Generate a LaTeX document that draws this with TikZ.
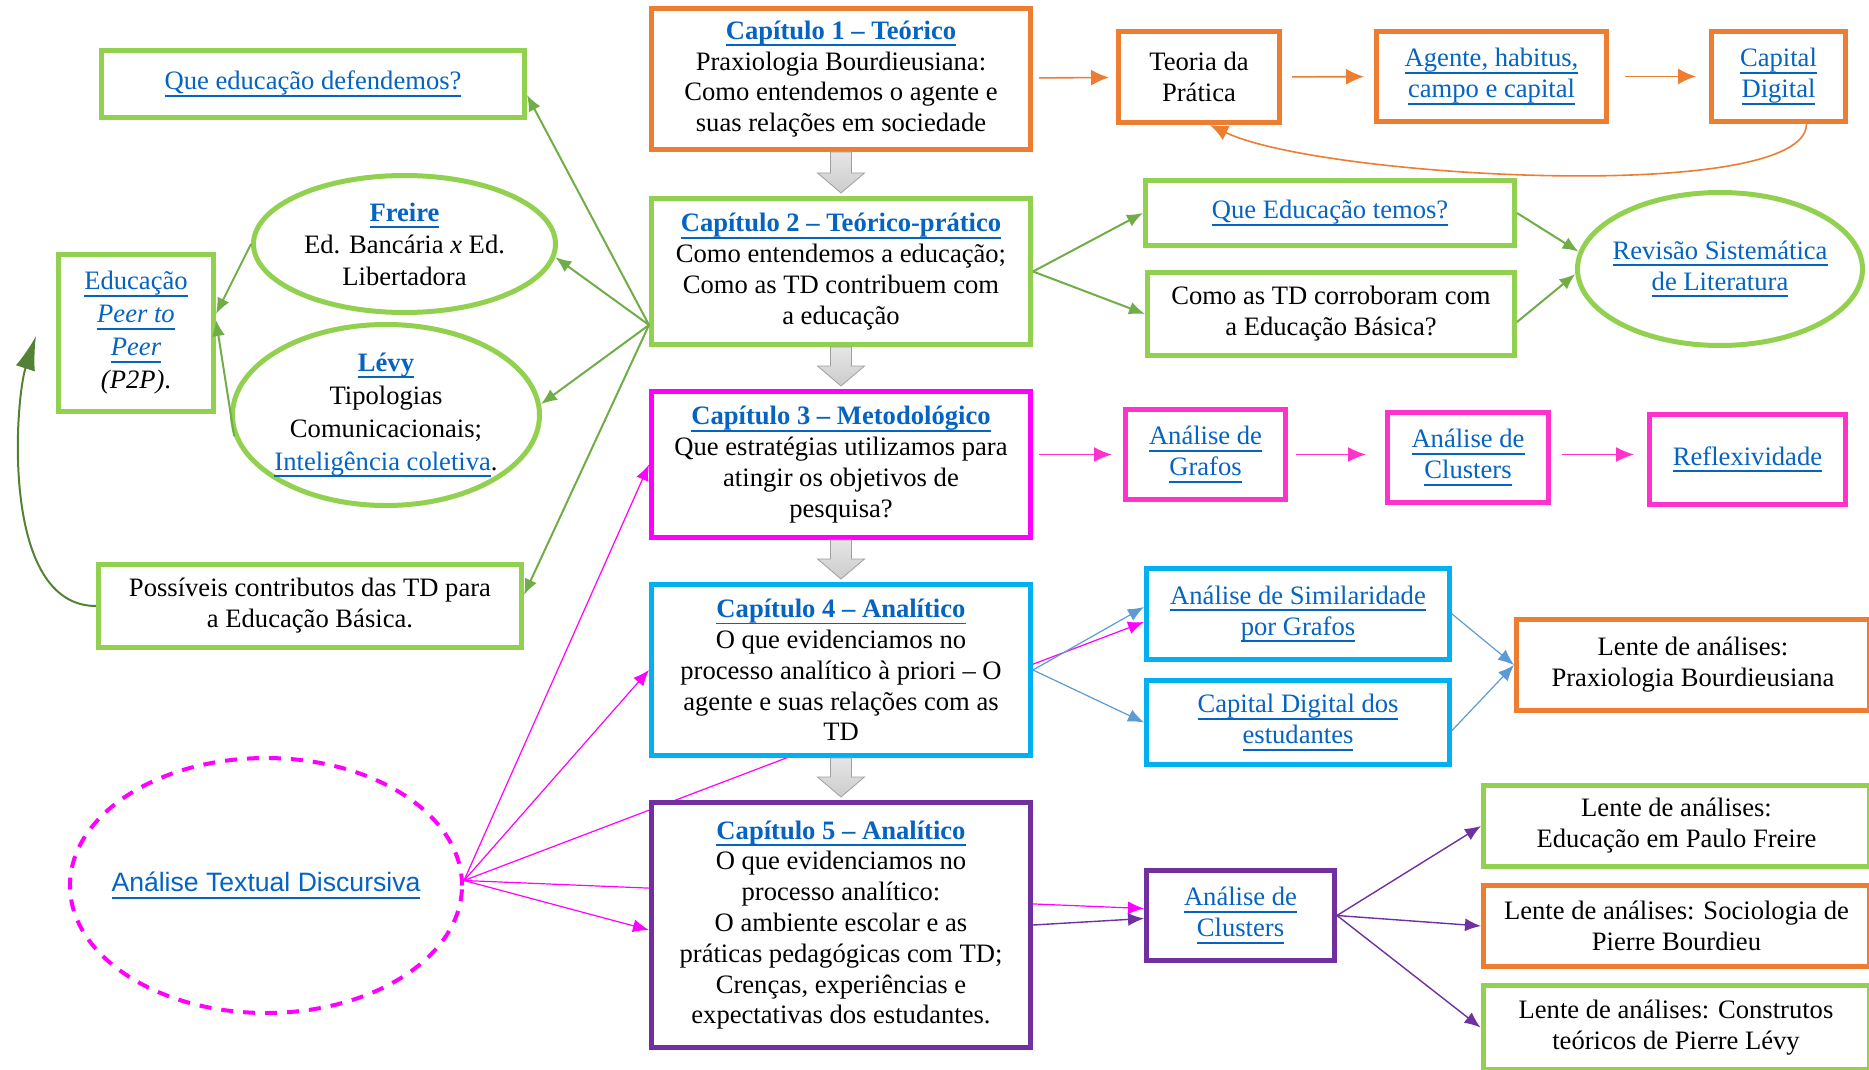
\documentclass[tikz,border=0pt]{standalone}
\usepackage{fontspec}
\setmainfont{Liberation Serif}
\setsansfont{Liberation Sans}
\usetikzlibrary{shapes.geometric,calc,arrows.meta,backgrounds}
\definecolor{orng}{HTML}{ED7D31}
\definecolor{grnbox}{HTML}{92D050}
\definecolor{grnarr}{HTML}{70AD47}
\definecolor{dkgrn}{HTML}{548235}
\definecolor{mag}{HTML}{FF00FF}
\definecolor{pnk}{HTML}{FF33CC}
\definecolor{cyanbox}{HTML}{00B0F0}
\definecolor{bluarr}{HTML}{5B9BD5}
\definecolor{purp}{HTML}{7030A0}
\definecolor{linkblue}{HTML}{0563C1}
\definecolor{grayarr}{HTML}{C9C9C9}
\newsavebox{\lnkbox}
\newcommand{\lnk}[1]{{\color{linkblue}\sbox{\lnkbox}{#1}\rlap{\rule[-3.4pt]{\wd\lnkbox}{0.9pt}}\usebox{\lnkbox}}}

\begin{document}
\begin{tikzpicture}
	[x=0.5pt,y=-0.5pt,
	every node/.style={font=\fontsize{13.3}{15.5}\selectfont,align=center,inner sep=0pt},
	box/.style={shape=rectangle,draw=#1,line width=2.5pt,fill=white},
	oval/.style={shape=ellipse,draw=#1,line width=2.5pt,fill=white},
	chap/.style={box=#1,minimum width=189.5pt,font=\fontsize{13.3}{15.4}\selectfont},
	arrhead/.style={-{Latex[length=8pt,width=6.5pt]}},
	garr/.style={arrhead,color=grnarr,line width=1pt},
	oarr/.style={-{Latex[length=9pt,width=8pt]},color=orng,line width=0.8pt},
	harr/.style={-{Latex[length=9pt,width=7.5pt]},color=pnk,line width=0.8pt},
	parr/.style={arrhead,color=mag,line width=0.6pt},
	barr/.style={arrhead,color=bluarr,line width=0.6pt},
	uarr/.style={arrhead,color=purp,line width=0.7pt},
	dgarr/.style={-{Latex[length=17pt,width=10pt]},color=dkgrn,line width=1pt},
	blk/.style={top color=gray!20,bottom color=gray!40,draw=gray!75,line width=0.4pt}]
	\useasboundingbox (0,0) rectangle (1869,1070);

	% chapters
	\node[chap=orng,minimum height=70.5pt] (cap1) at (841,79) {\textbf{\lnk{Capítulo 1 – Teórico}}\\Praxiologia Bourdieusiana:\\Como entendemos o agente e\\suas relações em sociedade};
	\node[chap=grnbox,minimum height=73pt] (cap2) at (841,271.5) {\textbf{\lnk{Capítulo 2 – Teórico-prático}}\\Como entendemos a educação;\\Como as TD contribuem com\\a educação};
	\node[chap=mag,minimum height=73pt] (cap3) at (841,464.5) {\textbf{\lnk{Capítulo 3 – Metodológico}}\\Que estratégias utilizamos para\\atingir os objetivos de\\pesquisa?};
	\node[chap=cyanbox,minimum height=85.5pt] (cap4) at (841,670) {\textbf{\lnk{Capítulo 4 – Analítico}}\\O que evidenciamos no\\processo analítico à priori – O\\agente e suas relações com as\\TD};
	\node[chap=purp,minimum height=122.5pt] (cap5) at (841,925) {\textbf{\lnk{Capítulo 5 – Analítico}}\\O que evidenciamos no\\processo analítico:\\O ambiente escolar e as\\práticas pedagógicas com TD;\\Crenças, experiências e\\expectativas dos estudantes.};

	\node[box=orng,minimum width=80.5pt,minimum height=45.5pt] (teoria) at (1199,77) {Teoria da\\Prática};
	\node[box=orng,minimum width=115pt,minimum height=45pt] (agente) at (1491.5,76.5) {\lnk{Agente, habitus,}\\\lnk{campo e capital}};
	\node[box=orng,minimum width=67pt,minimum height=45pt] (capdig) at (1778.5,76.5) {\lnk{Capital}\\\lnk{Digital}};
	\node[box=grnbox,minimum width=184.5pt,minimum height=32.5pt] (qetemos) at (1330,213) {\lnk{Que Educação temos?}};
	\node[box=grnbox,minimum width=183.5pt,minimum height=41.5pt] (comotd) at (1331,314) {Como as TD corroboram com\\a Educação Básica?};
	\node[oval=grnbox,inner xsep=-6pt,minimum width=142.5pt,minimum height=76.5pt] (revisao) at (1720,269) {\lnk{Revisão Sistemática}\\\lnk{de Literatura}};

	\node[box=grnbox,minimum width=211.5pt,minimum height=33.5pt] (qedef) at (313,84) {\lnk{Que educação defendemos?}};
	\node[oval=grnbox,minimum width=151pt,minimum height=68.5pt,font=\fontsize{13.3}{16}\selectfont] (freire) at (404.5,244) {\textbf{\lnk{Freire}}\\Ed. Bancária \textit{x} Ed.\\Libertadora};
	\node[oval=grnbox,inner xsep=-4pt,minimum width=153.5pt,minimum height=90.5pt,font=\fontsize{13.3}{16.5}\selectfont] (levy) at (386,415) {\textbf{\lnk{Lévy}}\\Tipologias\\Comunicacionais;\\\lnk{Inteligência coletiva}.};
	\node[box=grnbox,minimum width=77.5pt,minimum height=78.5pt,font=\fontsize{13.3}{16.5}\selectfont] (p2p) at (136,333) {\lnk{Educação}\\\textit{\lnk{Peer to}}\\\textit{\lnk{Peer}}\\\textit{(P2P)}.};
	\node[box=grnbox,minimum width=211.5pt,minimum height=41.5pt] (possiveis) at (310,606) {Possíveis contributos das TD para\\a Educação Básica.};

	\node[box=pnk,minimum width=80pt,minimum height=45pt] (grafos) at (1205.5,454.5) {\lnk{Análise de}\\\lnk{Grafos}};
	\node[box=pnk,minimum width=80.5pt,minimum height=45pt] (clus1) at (1468,457.5) {\lnk{Análise de}\\\lnk{Clusters}};
	\node[box=pnk,minimum width=98pt,minimum height=45pt] (reflex) at (1747.5,459.5) {\lnk{Reflexividade}};

	\node[box=cyanbox,minimum width=151.5pt,minimum height=45.5pt] (simil) at (1298,614) {\lnk{Análise de Similaridade}\\\lnk{por Grafos}};
	\node[box=cyanbox,minimum width=151.5pt,minimum height=42pt] (capest) at (1298,722.5) {\lnk{Capital Digital dos}\\\lnk{estudantes}};
	\node[box=orng,minimum width=176.5pt,minimum height=45.5pt] (lprax) at (1693,665) {Lente de análises:\\Praxiologia Bourdieusiana};

	\node[box=purp,minimum width=94pt,minimum height=45pt] (clus2) at (1240.5,915.5) {\lnk{Análise de}\\\lnk{Clusters}};
	\node[box=grnbox,minimum width=193pt,minimum height=40.5pt] (lfreire) at (1676.5,826) {Lente de análises:\\Educação em Paulo Freire};
	\node[box=orng,minimum width=193pt,minimum height=40.5pt] (lbourd) at (1676.5,926) {Lente de análises: Sociologia de\\Pierre Bourdieu};
	\node[box=grnbox,minimum width=193pt,minimum height=42pt] (llevy) at (1676,1027.5) {Lente de análises: Construtos\\teóricos de Pierre Lévy};

	\node[shape=ellipse,draw=mag,line width=2pt,dash pattern=on 6pt off 5pt,minimum width=196pt,minimum height=127.5pt,font=\sffamily\fontsize{13.3}{15}\selectfont] (atd) at (266,885.5) {\makebox[0pt]{\lnk{Análise Textual Discursiva}}};

	% block arrows between chapters
	\foreach \u/\v in {cap1/cap2,cap2/cap3,cap3/cap4,cap4/cap5}
	{
		\path[blk] ($(\u.south)+(-10.5,0)$) -- ($(\v.north)+(-10.5,-23)$) -- ($(\v.north)+(-23.5,-23)$) -- ($(\v.north)+(0,-3)$) -- ($(\v.north)+(23.5,-23)$) -- ($(\v.north)+(10.5,-23)$) -- ($(\u.south)+(10.5,0)$) -- cycle;
	}

	\path
	\foreach \s/\e/\a/\b in {cap1/teoria/3pt/3.5pt,teoria/agente/5pt/5pt,agente/capdig/8pt/6.5pt}
	{
		(\s) edge[oarr,shorten <=\a,shorten >=\b] (\e)
	};
	\draw[oarr] ($(capdig.south)+(28,0)$) .. controls (1806,205) and (1320,178) .. ($(teoria.south)+(11,0)$);

	\draw[harr,shorten <=3pt,shorten >=5.5pt] (cap3.east |- grafos.west) -- (grafos.west);
	\draw[harr,shorten <=4pt,shorten >=9.5pt] (grafos.east) -- (grafos.east -| clus1.west);
	\draw[harr,shorten <=5.5pt,shorten >=6.5pt] (clus1.east |- grafos.east) -- (grafos.east -| reflex.west);

	\coordinate (c2l) at ($(cap2.west)+(0,53.5)$);
	\path[garr] (c2l) edge ($(qedef.east)+(0,11)$) edge (freire.-5) edge (levy.4) edge ($(possiveis.east)+(0,-11)$);
	\path[garr] (cap2.east) edge (qetemos.west) edge (comotd.west);
	\draw[garr] (qetemos.east) -- (revisao.173);
	\draw[garr] ($(comotd.east)+(0,8)$) -- (revisao.182);
	\draw[garr] (freire.west) -- ($(p2p.east)+(0,-19)$);
	\draw[garr] (levy.188) -- ($(p2p.east)+(0,-13)$);
	\coordinate (p2ptip) at ($(p2p.west)+(-20,3)$);
	\draw[dgarr] (possiveis.west) .. controls (0,606) and (15,400) .. (p2ptip);

	\coordinate (a0) at ($(atd.east)+(0,-5)$);
	\path[parr] (a0) edge (cap3.west) edge (cap4.west) edge ($(cap5.west)+(0,5)$);
	\begin{scope}[on background layer]
		\path[parr] (a0) edge ($(simil.west)+(0,8)$) edge ($(clus2.west)+(0,-7)$);
	\end{scope}

	\path[barr] (cap4.east) edge ($(simil.west)+(0,-7)$) edge (capest.west);
	\path[barr] (simil.east) edge (lprax.west);
	\path[barr] ($(capest.east)+(0,8)$) edge (lprax.west);

	\path[uarr] (cap5.east) edge ($(clus2.west)+(0,3)$);
	\path[uarr] (clus2.east) edge (lfreire.west) edge (lbourd.west) edge (llevy.west);
\end{tikzpicture}
\end{document}
